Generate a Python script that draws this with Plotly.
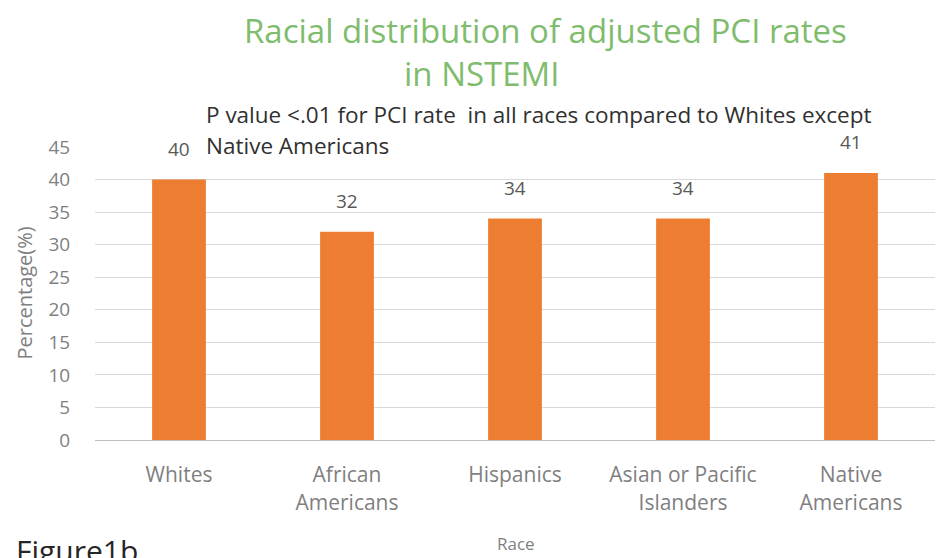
import plotly.graph_objects as go

races = ["Whites", "African<br>Americans", "Hispanics", "Asian or Pacific<br>Islanders", "Native<br>Americans"]
pci_rates = [40, 32, 34, 34, 41]
y_ticks = [0, 5, 10, 15, 20, 25, 30, 35, 40, 45]

FONT = "Open Sans"
TICK_GREY = "#7F7F7F"
LABEL_GREY = "#595959"
DARK = "#303030"
GREEN = "#80BC6E"

# plot area in pixels: x 95..935, y 147..440
L, R, T, B = 95, 2, 147, 118
W, H = 937, 558
PW, PH = W - L - R, H - T - B


def px(x):
    return (x - L) / PW


def py(y):
    return (H - B - y) / PH


fig = go.Figure(
    go.Bar(
        x=races,
        y=pci_rates,
        marker=dict(color="#ED7D31", line=dict(width=0)),
        width=0.32,
        hoverinfo="x+y",
    )
)

# value labels above each bar
for race, val in zip(races, pci_rates):
    fig.add_annotation(
        x=race, y=val, text=str(val), showarrow=False,
        yanchor="middle", yshift=31,
        font=dict(family=FONT, size=19, color=LABEL_GREY),
    )

# chart title (two lines)
fig.add_annotation(xref="paper", yref="paper", x=px(545), y=py(30),
                   xanchor="center", yanchor="middle", showarrow=False,
                   text="Racial distribution of adjusted PCI rates",
                   font=dict(family=FONT, size=33, color=GREEN))
fig.add_annotation(xref="paper", yref="paper", x=px(482), y=py(73),
                   xanchor="center", yanchor="middle", showarrow=False,
                   text="in NSTEMI",
                   font=dict(family=FONT, size=33, color=GREEN))

# significance note
fig.add_annotation(xref="paper", yref="paper", x=px(205), y=py(115),
                   xanchor="left", yanchor="middle", showarrow=False,
                   text="P value <.01 for PCI rate  in all races compared to Whites except",
                   font=dict(family=FONT, size=22.5, color=DARK),
                   borderpad=0)
fig.add_annotation(xref="paper", yref="paper", x=px(205), y=py(146),
                   xanchor="left", yanchor="middle", showarrow=False,
                   text="Native Americans",
                   font=dict(family=FONT, size=22.5, color=DARK),
                   borderpad=0)

# axis titles
fig.add_annotation(xref="paper", yref="paper", x=px(24), y=0.5,
                   xanchor="center", yanchor="middle", showarrow=False,
                   text="Percentage(%)", textangle=-90,
                   font=dict(family=FONT, size=20, color=TICK_GREY))
fig.add_annotation(xref="paper", yref="paper", x=px(516), y=py(543),
                   xanchor="center", yanchor="middle", showarrow=False,
                   text="Race",
                   font=dict(family=FONT, size=17, color=TICK_GREY))

fig.add_annotation(xref="paper", yref="paper", x=px(14), y=py(550),
                   xanchor="left", yanchor="middle", showarrow=False,
                   text="Figure1b",
                   font=dict(family=FONT, size=30, color="#262626"))

fig.update_layout(
    width=W, height=H,
    margin=dict(l=L, r=R, t=T, b=B),
    paper_bgcolor="white", plot_bgcolor="white",
    showlegend=False,
    font=dict(family=FONT, color=TICK_GREY),
    xaxis=dict(
        tickfont=dict(size=21, color=TICK_GREY),
        showline=True, linecolor="#BFBFBF",
        ticks="outside", ticklen=16, tickcolor="white",
    ),
    yaxis=dict(
        range=[0, 45], tickvals=y_ticks,
        tickfont=dict(size=19, color=TICK_GREY),
        showgrid=True, gridcolor="#D9D9D9", gridwidth=1,
        zeroline=False, ticks="outside", ticklen=20, tickcolor="white",
    ),
)

fig.write_html("out.html")
